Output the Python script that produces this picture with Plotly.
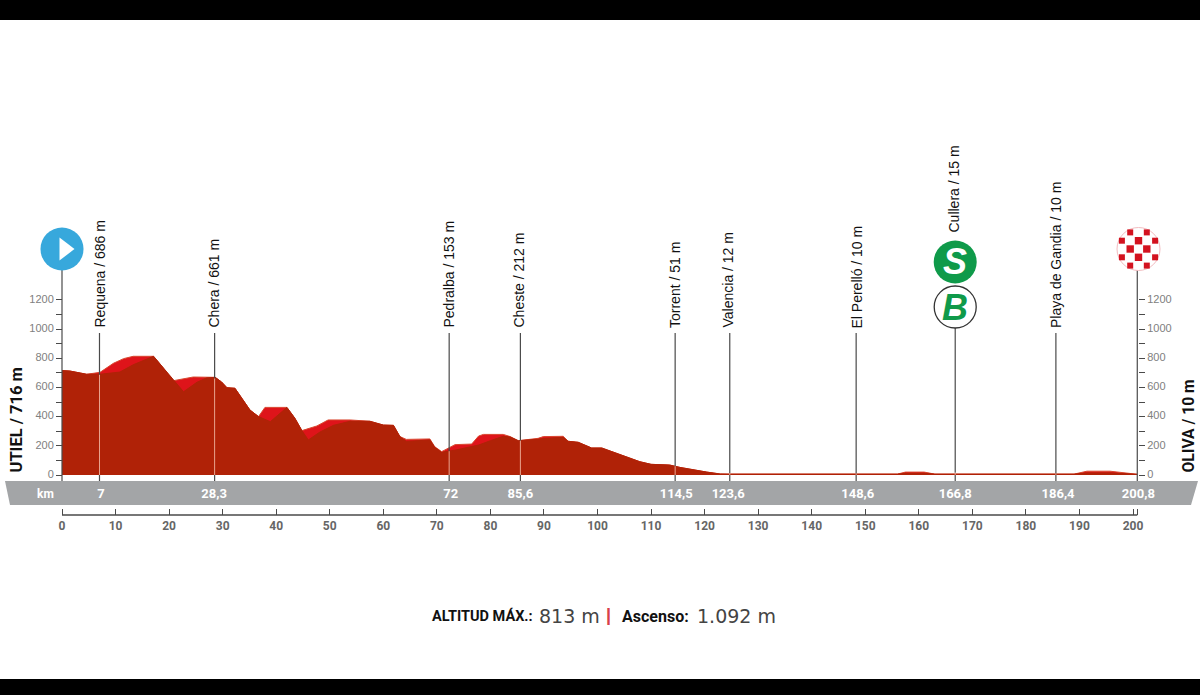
import plotly.graph_objects as go

# ---- data ----
km_top = [0, 1.5, 4.6, 7.1, 9.6, 11.5, 13.3, 17.1, 18.3, 20.8, 24.5, 28.6, 29.8, 30.8, 32.3, 35.1, 36.7, 37.9,
          42, 43.5, 44.8, 47.6, 49.7, 53.8, 57.5, 60, 61.9, 63.1, 64.3, 68.7, 69.6, 70.9, 72.4, 73.4, 76.5, 77.8,
          78.7, 82.4, 83.7, 85.2, 88.9, 89.9, 93.6, 94.5, 96.4, 98.9, 100.8, 103.6, 106, 107.9, 110, 113.5, 115.4,
          117.9, 120.4, 122.9, 124.8, 156, 157.5, 161, 163, 189, 191.4, 195.7, 198, 200.8]
alt_top = [715, 712, 690, 703, 765, 797, 813, 813, 760, 646, 671, 669, 637, 598, 594, 445, 400, 463,
           463, 388, 304, 336, 377, 377, 368, 342, 340, 263, 244, 247, 194, 160, 189, 208, 212, 267,
           278, 278, 263, 235, 251, 263, 265, 231, 224, 185, 185, 148, 114, 91, 73, 68, 52,
           34, 20, 7, 6, 6, 20, 20, 6, 6, 26, 26, 18, 5]
km_dark = [0, 1.5, 4.6, 7.1, 10.8, 13.3, 17.1, 18.3, 20.8, 22.7, 25.2, 27, 28.6, 29.8, 30.8, 32.3, 35.1, 36.7, 38.9,
           41.3, 42, 43.5, 44.8, 46, 48.2, 50.7, 53.8, 57.5, 60, 61.9, 63.1, 64.3, 68.7, 69.6, 70.9, 72.4, 73.4, 76.5,
           77.8, 80, 82.4, 83.7, 85.2, 88.9, 89.9, 93.6, 94.5, 96.4, 98.9, 100.8, 103.6, 106, 107.9, 110, 113.5, 115.4,
           117.9, 120.4, 122.9, 124.8, 156, 157.5, 161, 163, 189, 191.4, 195.7, 198, 200.8]
alt_dark = [715, 712, 690, 690, 705, 755, 813, 760, 646, 570, 635, 665, 669, 637, 598, 594, 445, 400, 365,
            445, 463, 388, 304, 240, 295, 340, 368, 368, 342, 340, 263, 230, 240, 190, 155, 165, 170, 195,
            205, 235, 265, 260, 235, 245, 250, 258, 231, 224, 185, 185, 148, 114, 91, 73, 68, 52,
            34, 20, 7, 6, 6, 12, 12, 6, 6, 14, 14, 10, 5]

place_names = ["Requena / 686 m", "Chera / 661 m", "Pedralba / 153 m", "Cheste / 212 m", "Torrent / 51 m",
               "Valencia / 12 m", "El Perelló / 10 m", "Cullera / 15 m", "Playa de Gandia / 10 m"]
place_km = [7.0, 28.5, 72.3, 85.6, 114.5, 124.7, 148.3, 166.8, 185.6]
place_alt = [686, 661, 163, 235, 60, 12, 10, 15, 10]
place_km_labels = ["7", "28,3", "72", "85,6", "114,5", "123,6", "148,6", "166,8", "186,4", "200,8"]
label_km = [7.3, 28.4, 72.6, 85.6, 114.7, 124.4, 148.6, 166.8, 186.0, 201.0]
ruler_ticks = list(range(0, 201, 10)) + [200.8]
ruler_text = [str(v) for v in range(0, 201, 10)] + [""]
alt_ticks = [0, 200, 400, 600, 800, 1000, 1200]
alt_minor = [100, 300, 500, 700, 900, 1100]
KM_END = 200.8

# ---- pixel geometry of the canvas ----
W, H = 1200, 695
X0, PXKM = 62.0, 5.355
Y0, PXM = 475.0, 0.146
SANS = "Liberation Sans"
COND = "Roboto"
DARK = "#B02207"
BRIGHT = "#DE141A"
LINE = "#4a4a4a"


def yv(px):
    return (Y0 - px) / PXM


def xv(px):
    return (px - X0) / PXKM


fig = go.Figure()
fig.add_trace(go.Scatter(x=km_top, y=alt_top, mode="lines", fill="tozeroy", fillcolor=BRIGHT,
                         line=dict(color="#D9472F", width=1), hoverinfo="skip"))
fig.add_trace(go.Scatter(x=km_dark, y=alt_dark, mode="lines", fill="tozeroy", fillcolor=DARK,
                         line=dict(color=DARK, width=1), hoverinfo="skip"))

# place lines: dark above the profile, pale inside it
for name, k, a in zip(place_names, place_km, place_alt):
    top_px = 328 if name.startswith("Cullera") else 333
    fig.add_trace(go.Scatter(x=[k, k], y=[a, yv(top_px)], mode="lines", line=dict(color=LINE, width=1.2),
                             hoverinfo="skip"))
    fig.add_trace(go.Scatter(x=[k, k], y=[0, a], mode="lines", line=dict(color="#E9A48F", width=1),
                             hoverinfo="skip"))
    fig.add_trace(go.Scatter(x=[k, k], y=[yv(481), 0], mode="lines", line=dict(color=LINE, width=1.2),
                             hoverinfo="skip"))

# axis posts and km ruler line
for k in [0, KM_END]:
    fig.add_trace(go.Scatter(x=[k, k], y=[yv(481), yv(268)], mode="lines", line=dict(color=LINE, width=1.2),
                             hoverinfo="skip"))
fig.add_trace(go.Scatter(x=[0, KM_END], y=[yv(515), yv(515)], mode="lines", line=dict(color=LINE, width=1.3),
                         hoverinfo="skip"))
fig.add_trace(go.Scatter(x=[0, 0], y=[0, 0], yaxis="y2", mode="lines", line=dict(width=0), hoverinfo="skip"))

# km values in the grey band
fig.add_trace(go.Scatter(x=label_km, y=[yv(495)] * len(label_km), mode="text", text=place_km_labels,
                         textfont=dict(family=COND, size=13, color="white", weight="bold"), hoverinfo="skip"))

# round icons
fig.add_trace(go.Scatter(x=[0], y=[yv(249)], mode="markers",
                         marker=dict(size=43, color="#37A8DC", line=dict(width=0)), hoverinfo="skip"))
fig.add_trace(go.Scatter(x=[xv(64.5)], y=[yv(249)], mode="markers",
                         marker=dict(size=20, color="white", symbol="triangle-right"), hoverinfo="skip"))
fig.add_trace(go.Scatter(x=[166.8], y=[yv(262)], mode="markers",
                         marker=dict(size=43, color="#0F9A4A"), hoverinfo="skip"))
fig.add_trace(go.Scatter(x=[166.8], y=[yv(307)], mode="markers",
                         marker=dict(size=42, color="white", line=dict(color="#333333", width=1.3)), hoverinfo="skip"))
fig.add_trace(go.Scatter(x=[xv(1138.5)], y=[yv(249)], mode="markers",
                         marker=dict(size=43, color="white", line=dict(color="#F2BCC0", width=1)), hoverinfo="skip"))

shapes = [
    dict(type="rect", xref="paper", yref="paper", x0=0, x1=1, y0=1 - 20 / H, y1=1,
         fillcolor="black", line=dict(width=0)),
    dict(type="rect", xref="paper", yref="paper", x0=0, x1=1, y0=0, y1=16 / H,
         fillcolor="black", line=dict(width=0)),
    dict(type="path", xref="paper", yref="paper", layer="below",
         path=f"M {5/W} {1-481/H} L {1198/W} {1-481/H} L {1191/W} {1-505/H} L {10/W} {1-505/H} Z",
         fillcolor="#A3A5A7", line=dict(width=0)),
]
# chequered finish disc
CELL = 8.3
cx, cy = 1138.5, 249.0
for row in range(-2, 3):
    for col in range(-2, 3):
        if (row + col) % 2 == 0:
            continue
        xa, ya = cx + col * CELL, cy + row * CELL
        half = 3.0 if abs(row) + abs(col) == 3 else 3.7
        shapes.append(dict(type="rect", xref="paper", yref="paper",
                           x0=(xa - half) / W, x1=(xa + half) / W,
                           y0=1 - (ya + half) / H, y1=1 - (ya - half) / H,
                           fillcolor="#D3121F", line=dict(width=0)))

annotations = []


def note(text, px, py, size, color="#111111", family=SANS, bold=False, angle=0, xa="center", ya="middle", italic=False):
    annotations.append(dict(text=text, xref="paper", yref="paper", x=px / W, y=1 - py / H, showarrow=False,
                            textangle=angle, xanchor=xa, yanchor=ya,
                            font=dict(family=family, size=size, color=color,
                                      weight="bold" if bold else "normal",
                                      style="italic" if italic else "normal")))


label_px = [100, 214, 449, 519, 675, 728, 857, 953, 1056]
for name, px in zip(place_names, label_px):
    py = 235 if name.startswith("Cullera") else 330
    note(name, px, py, 14, angle=-90, ya="bottom")
note("UTIEL / 716 m", 16, 475, 16.5, family=COND, bold=True, angle=-90, ya="bottom")
note("OLIVA / 10 m", 1188, 475, 15.7, family=COND, bold=True, angle=-90, ya="bottom")
note("km", 45, 494, 12, color="white", family=COND, bold=True)
note("S", 955, 262, 36, color="white", bold=True, italic=True)
note("B", 955, 307, 36, color="#0F9A4A", bold=True, italic=True)
note("ALTITUD MÁX.:", 430, 616, 14.5, family=COND, bold=True, xa="left")
note("813 m", 537, 616, 19, color="#444444", family="DejaVu Sans", xa="left")
note("|", 609, 615, 18, color="#D8404A", bold=True)
note("Ascenso:", 620, 616, 16, family=COND, bold=True, xa="left")
note("1.092 m", 695, 616, 19, color="#444444", family="DejaVu Sans", xa="left")

tickfont = dict(family=SANS, size=11, color="#808080")
yrange = [yv(H), yv(0)]
fig.update_layout(
    width=W, height=H, margin=dict(l=0, r=0, t=0, b=0), autosize=False,
    paper_bgcolor="white", plot_bgcolor="rgba(0,0,0,0)", showlegend=False,
    shapes=shapes, annotations=annotations,
    xaxis=dict(domain=[0, 1], range=[xv(0), xv(W)], anchor="free", position=1 - 515 / H, side="bottom",
               tickmode="array", tickvals=ruler_ticks, ticktext=ruler_text, ticks="inside", ticklen=6,
               tickcolor=LINE, tickwidth=1.3, showline=False, showgrid=False, zeroline=False,
               ticklabelstandoff=2,
               tickfont=dict(family=COND, size=12, color="#666666", weight="bold")),
    yaxis=dict(domain=[0, 1], range=yrange, anchor="free", position=X0 / W, side="left",
               tickmode="array", tickvals=alt_ticks, ticks="outside", ticklen=6, tickcolor=LINE,
               minor=dict(tickmode="array", tickvals=alt_minor, ticks="outside", ticklen=6, tickcolor=LINE),
               ticklabelshift=-1, showline=False, showgrid=False, zeroline=False, tickfont=tickfont),
    yaxis2=dict(domain=[0, 1], range=yrange, overlaying="y", anchor="free", position=1138 / W, side="right",
                tickmode="array", tickvals=alt_ticks, ticks="outside", ticklen=6, tickcolor=LINE,
                minor=dict(tickmode="array", tickvals=alt_minor, ticks="outside", ticklen=6, tickcolor=LINE),
                ticklabelshift=-1, showline=False, showgrid=False, zeroline=False, tickfont=tickfont),
)
fig.write_html("out.html", post_script="document.body.style.margin='0';", config={"displayModeBar": False})
